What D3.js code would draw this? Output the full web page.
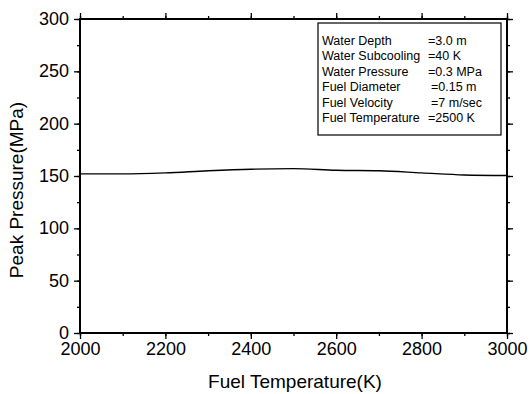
<!DOCTYPE html>
<html>
<head>
<meta charset="utf-8">
<script src="https://cdn.jsdelivr.net/npm/d3@7"></script>
<style>
  body { margin: 0; background: #fff; }
  svg { display: block; font-family: 'Liberation Sans', Arial, sans-serif; }
</style>
</head>
<body>
<script>
// fuel temperature (K) vs peak pressure (MPa)
const temps = [2000, 2100, 2200, 2300, 2400, 2500, 2600, 2700, 2800, 2900, 3000];
const pressures = [152, 152, 153, 155, 156.5, 157, 155.5, 155, 153, 151, 150.5];

const xTicks = [2000, 2200, 2400, 2600, 2800, 3000];
const yTicks = [0, 50, 100, 150, 200, 250, 300];

const legendLabels = ['Water Depth', 'Water Subcooling', 'Water Pressure', 'Fuel Diameter', 'Fuel Velocity', 'Fuel Temperature'];
const legendValues = ['=3.0 m', '=40 K', '=0.3 MPa', '=0.15 m', '=7 m/sec', '=2500 K'];

const width = 531;
const height = 394;
const margin = {top: 19, right: 24, bottom: 61, left: 80};

const svg = d3.select('body').append('svg')
  .attr('width', width)
  .attr('height', height);

const x = d3.scaleLinear().domain([2000, 3000]).range([margin.left, width - margin.right]);
const y = d3.scaleLinear().domain([0, 300]).range([height - margin.bottom, margin.top]);

const minorX = d3.range(2000, 3001, 100);
const minorY = d3.range(0, 301, 25);

function axisPair(axisFn, scale, major, minor, pos, labels) {
  const g = svg.append('g').attr('transform', pos);
  g.call(axisFn(scale).tickValues(minor).tickSize(3).tickFormat(''));
  g.call(g2 => g2.select('.domain').remove());
  const g3 = svg.append('g').attr('transform', pos);
  g3.call(axisFn(scale).tickValues(major).tickSize(6).tickSizeOuter(0)
    .tickFormat(labels ? d3.format('d') : ''));
  g3.select('.domain').remove();
  return g3;
}

const xb = axisPair(d3.axisBottom, x, xTicks, minorX, `translate(0,${y(0)})`, true);
axisPair(d3.axisTop, x, xTicks, minorX, `translate(0,${y(300)})`, false);
const yl = axisPair(d3.axisLeft, y, yTicks, minorY, `translate(${x(2000)},0)`, true);
axisPair(d3.axisRight, y, yTicks, minorY, `translate(${x(3000)},0)`, false);

svg.selectAll('.tick line').attr('stroke', '#000').attr('stroke-width', 1.3);
xb.selectAll('text').attr('font-size', 18).attr('fill', '#000').attr('dy', '0.9em').attr('y', 6);
yl.selectAll('text').attr('font-size', 18).attr('fill', '#000').attr('x', -11).attr('dy', '0.3em');

// frame
svg.append('rect')
  .attr('x', x(2000)).attr('y', y(300))
  .attr('width', x(3000) - x(2000)).attr('height', y(0) - y(300))
  .attr('fill', 'none').attr('stroke', '#000').attr('stroke-width', 2);

// line
svg.append('path')
  .datum(temps.map((t, i) => [t, pressures[i]]))
  .attr('fill', 'none')
  .attr('stroke', '#000')
  .attr('stroke-width', 1.4)
  .attr('d', d3.line().x(d => x(d[0])).y(d => y(d[1])).curve(d3.curveMonotoneX));

// axis titles
svg.append('text')
  .attr('x', 295)
  .attr('y', 388)
  .attr('text-anchor', 'middle')
  .attr('font-size', 19)
  .text('Fuel Temperature(K)');

svg.append('text')
  .attr('transform', 'translate(23,190) rotate(-90)')
  .attr('text-anchor', 'middle')
  .attr('font-size', 19)
  .text('Peak Pressure(MPa)');

// parameter box
const box = svg.append('g').attr('transform', 'translate(318,23)');
box.append('rect')
  .attr('width', 183).attr('height', 112)
  .attr('fill', '#fff').attr('stroke', '#000').attr('stroke-width', 1.2);

const valueX = [110, 110, 110, 113, 113, 110];
legendLabels.forEach((lab, i) => {
  const ty = 22 + i * 15.4;
  box.append('text').attr('x', 4).attr('y', ty).attr('font-size', 12.5).text(lab);
  box.append('text').attr('x', valueX[i]).attr('y', ty).attr('font-size', 12.5).text(legendValues[i]);
});
</script>
</body>
</html>
